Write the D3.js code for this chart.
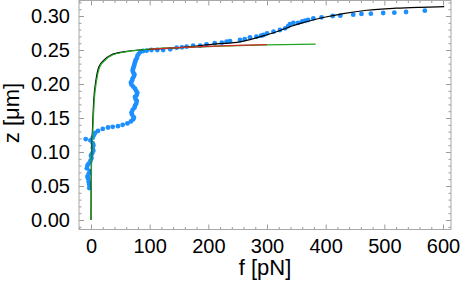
<!DOCTYPE html>
<html>
<head>
<meta charset="utf-8">
<script src="https://cdn.jsdelivr.net/npm/d3@7"></script>
<style>
  body { margin: 0; background: #fff; }
  svg text { font-family: "Liberation Sans", Arial, Helvetica, sans-serif; }
</style>
</head>
<body>
<script>
// measured points (f in pN, z in um)
var pointF = [-3, -3, -4, -5, -6, -4, -2, -7, -6, -4, -1, 1, 0, 2, 4, 3, 4, 3, -1, -9, 3, 5,
  7, 12, 20, 29, 37, 46, 54, 62, 68,
  72, 73, 70, 69, 71, 74, 75, 77, 78, 76, 75, 78, 79, 77, 75, 72, 69, 68, 70, 71, 73, 74, 72, 71, 72, 73, 74, 75, 76, 78, 79, 81, 84,
  89, 95, 103, 113, 123, 135, 146, 155, 163, 174, 186, 197, 211, 223, 231, 237, 254, 262, 271, 282, 290, 294, 300, 311, 322, 331, 336, 339, 345, 353, 360, 365, 370, 379, 393, 412, 425, 447, 461, 477, 498, 517, 537, 569];
var pointZ = [0.047, 0.052, 0.056, 0.061, 0.064, 0.068, 0.072, 0.076, 0.080, 0.083, 0.087, 0.091, 0.095, 0.098, 0.102, 0.106, 0.110, 0.113, 0.117, 0.119, 0.121, 0.125,
  0.128, 0.131, 0.134, 0.136, 0.137, 0.138, 0.140, 0.142, 0.145,
  0.148, 0.151, 0.155, 0.158, 0.162, 0.165, 0.168, 0.171, 0.175, 0.178, 0.181, 0.184, 0.187, 0.190, 0.193, 0.196, 0.199, 0.202, 0.205, 0.208, 0.211, 0.214, 0.217, 0.220, 0.223, 0.226, 0.229, 0.232, 0.235, 0.238, 0.241, 0.244, 0.247,
  0.2485, 0.249, 0.250, 0.250, 0.250, 0.251, 0.2534, 0.254, 0.2549, 0.2563, 0.2563, 0.2584, 0.260, 0.2608, 0.2623, 0.2632, 0.2647, 0.266, 0.2686, 0.2696, 0.271, 0.2721, 0.2745, 0.277, 0.2794, 0.2819, 0.285, 0.288, 0.290, 0.290, 0.292, 0.293, 0.2941, 0.2966, 0.298, 0.300, 0.3005, 0.302, 0.303, 0.3034, 0.3044, 0.3049, 0.3059, 0.3078];

// black fit
var blackF = [0, 0.3, 1.2, 2.3, 4.7, 8.5, 13.5, 22, 35, 58, 82, 100, 150, 214, 254, 300, 320, 340, 360, 380, 400, 430, 470, 520, 560, 602];
var blackZ = [0, 0.06, 0.10, 0.128, 0.176, 0.206, 0.2255, 0.235, 0.243, 0.2475, 0.25, 0.251, 0.2535, 0.259, 0.262, 0.2725, 0.278, 0.2845, 0.290, 0.2945, 0.2985, 0.3035, 0.3085, 0.3115, 0.3128, 0.3137];

// green fit
var greenF = [0, 0.5, 1.7, 2.9, 5.6, 9.7, 15, 24, 37.5, 61, 83, 100, 150, 200, 250, 300, 383];
var greenZ = [0, 0.06, 0.103, 0.128, 0.176, 0.206, 0.2255, 0.235, 0.243, 0.2475, 0.25, 0.2515, 0.2535, 0.255, 0.2565, 0.2575, 0.2585];

// red fit
var redF = [100, 150, 200, 250, 300];
var redZ = [0.2512, 0.2535, 0.2552, 0.2567, 0.2578];

var xTicks = [0, 100, 200, 300, 400, 500, 600];
var yTicks = [0, 0.05, 0.10, 0.15, 0.20, 0.25, 0.30];

var W = 463, H = 288;
var mLeft = 79, mRight = 451, mTop = 0.5, mBottom = 229.5;

var svg = d3.select("body").append("svg")
    .attr("width", W)
    .attr("height", H);

var x = d3.scaleLinear().domain([-20.45, 613.6]).range([mLeft, mRight]);
var y = d3.scaleLinear().domain([-0.01397, 0.3228]).range([mBottom, mTop]);

var xMinor = d3.range(-20, 601, 20).filter(function(v) { return v % 100 !== 0; });
var yMinor = d3.range(-1, 33).filter(function(v) { return v % 5 !== 0; }).map(function(v) { return v / 100; });

function styleAxis(g) {
  g.select(".domain").remove();
  g.selectAll(".tick line").attr("stroke", "#9a9a9a");
  g.selectAll(".tick text").attr("fill", "#000").style("font-size", "20px");
}

// bottom / left with labels
svg.append("g").attr("transform", "translate(0," + mBottom + ")")
    .call(d3.axisBottom(x).tickValues(xTicks).tickSize(-5).tickPadding(9).tickFormat(d3.format("d")))
    .call(styleAxis);
svg.append("g").attr("transform", "translate(0," + mBottom + ")")
    .call(d3.axisBottom(x).tickValues(xMinor).tickSize(-2.5).tickFormat(""))
    .call(styleAxis);
svg.append("g").attr("transform", "translate(" + mLeft + ",0)")
    .call(d3.axisLeft(y).tickValues(yTicks).tickSize(-5).tickPadding(9).tickFormat(d3.format(".2f")))
    .call(styleAxis);
svg.append("g").attr("transform", "translate(" + mLeft + ",0)")
    .call(d3.axisLeft(y).tickValues(yMinor).tickSize(-2.5).tickFormat(""))
    .call(styleAxis);

// top / right, ticks only
svg.append("g").attr("transform", "translate(0," + mTop + ")")
    .call(d3.axisTop(x).tickValues(xTicks).tickSize(-5).tickFormat(""))
    .call(styleAxis);
svg.append("g").attr("transform", "translate(0," + mTop + ")")
    .call(d3.axisTop(x).tickValues(xMinor).tickSize(-2.5).tickFormat(""))
    .call(styleAxis);
svg.append("g").attr("transform", "translate(" + mRight + ",0)")
    .call(d3.axisRight(y).tickValues(yTicks).tickSize(-5).tickFormat(""))
    .call(styleAxis);
svg.append("g").attr("transform", "translate(" + mRight + ",0)")
    .call(d3.axisRight(y).tickValues(yMinor).tickSize(-2.5).tickFormat(""))
    .call(styleAxis);

// frame
svg.append("rect")
    .attr("x", mLeft).attr("y", mTop)
    .attr("width", mRight - mLeft).attr("height", mBottom - mTop)
    .attr("fill", "none")
    .attr("stroke", "#a8a8a8")
    .attr("stroke-width", 1);

var plot = svg.append("g");

// points
plot.selectAll("circle")
    .data(d3.range(pointF.length))
  .enter().append("circle")
    .attr("cx", function(i) { return x(pointF[i]); })
    .attr("cy", function(i) { return y(pointZ[i]); })
    .attr("r", 2.4)
    .attr("fill", "#1e8fff");

function drawLine(fs, zs, color) {
  var line = d3.line()
      .x(function(i) { return x(fs[i]); })
      .y(function(i) { return y(zs[i]); })
      .curve(d3.curveMonotoneX);
  plot.append("path")
      .datum(d3.range(fs.length))
      .attr("d", line)
      .attr("fill", "none")
      .attr("stroke", color)
      .attr("stroke-width", 1.2);
}

drawLine(blackF, blackZ, "#000");
drawLine(greenF, greenZ, "#1fa51f");
drawLine(redF, redZ, "#d42a2a");

// axis titles
svg.append("text")
    .attr("x", 265).attr("y", 275)
    .attr("text-anchor", "middle")
    .style("font-size", "22px")
    .text("f [pN]");

svg.append("text")
    .attr("transform", "translate(19,113) rotate(-90)")
    .attr("text-anchor", "middle")
    .style("font-size", "22px")
    .text("z [\u03bcm]");
</script>
</body>
</html>
